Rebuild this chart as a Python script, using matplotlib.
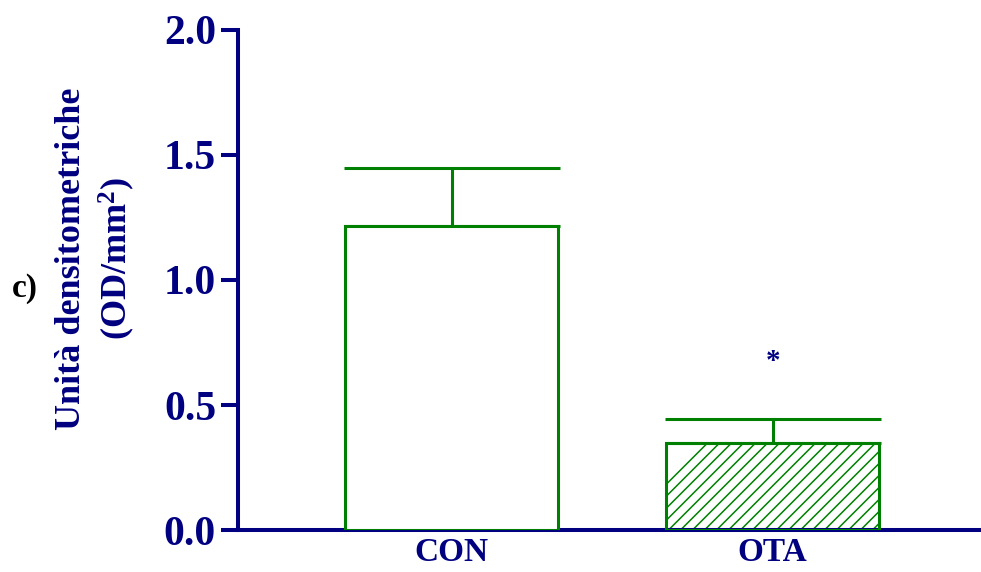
import matplotlib
matplotlib.use("Agg")
import matplotlib.pyplot as plt
import matplotlib.transforms as mtransforms
from matplotlib.collections import LineCollection
import numpy as np

# Data
groups = ["CON", "OTA"]
means = [1.215, 0.35]
sems = [0.232, 0.096]
ytick_vals = [0.0, 0.5, 1.0, 1.5, 2.0]
ytick_labels = ["0.0", "0.5", "1.0", "1.5", "2.0"]

NAVY = "#000080"
GREEN = "#008000"

plt.rcParams["font.family"] = ["Liberation Serif", "DejaVu Serif"]
plt.rcParams["font.weight"] = "bold"
plt.rcParams["mathtext.fontset"] = "custom"
plt.rcParams["mathtext.rm"] = "Liberation Serif:bold"
plt.rcParams["mathtext.bf"] = "Liberation Serif:bold"
plt.rcParams["mathtext.default"] = "bf"

DPI = 100
fig = plt.figure(figsize=(9.81, 5.72), dpi=DPI)
ax = fig.add_axes([0.2429, 0.0734, 0.7571, 0.8742])

x = np.arange(len(groups))
width = 0.6645

ax.set_xlim(-0.665, 1.649)
ax.set_ylim(0, 2.0)

# Error bars (upper only) behind bars
ax.errorbar(x, means, yerr=[np.zeros(len(means)), sems], fmt="none",
            ecolor=GREEN, elinewidth=2.2, capsize=78, capthick=2.2, zorder=1)

bars = ax.bar(x, means, width=width, color="white", edgecolor=GREEN,
              linewidth=2.2, zorder=3)

# Diagonal hatching on the treated group: 45-degree lines in pixel space,
# each trimmed to the bar rectangle
hatched = bars[1]
hatched.set_facecolor("none")
(x0, y0), (x1, y1) = ax.transData.transform(
    [(hatched.get_x(), hatched.get_y()),
     (hatched.get_x() + hatched.get_width(), hatched.get_y() + hatched.get_height())])
spacing = 12.0
segs = []
c = x0 - (y1 - y0)
while c < x1:
    ya = max(y0, x0 - c)
    yb = min(y1, x1 - c)
    if yb > ya:
        segs.append([(ya + c, ya), (yb + c, yb)])
    c += spacing
hatch = LineCollection(segs, colors=GREEN, linewidths=1.1,
                       transform=mtransforms.IdentityTransform(), zorder=2.5)
ax.add_collection(hatch, autolim=False)

# Significance marker
ax.text(1, 0.645, "*", ha="center", va="baseline", color=NAVY,
        fontsize=21, fontweight="bold")

# Axes styling
for side in ("top", "right"):
    ax.spines[side].set_visible(False)
for side in ("left", "bottom"):
    ax.spines[side].set_color(NAVY)
    ax.spines[side].set_linewidth(2.9)

ax.set_yticks(ytick_vals)
ax.set_yticklabels(ytick_labels)
ax.set_xticks(x)
ax.set_xticklabels(groups)
ax.tick_params(axis="y", direction="out", length=12, width=2.9, color=NAVY,
               labelcolor=NAVY, labelsize=30, pad=4)
ax.tick_params(axis="x", length=0, labelcolor=NAVY, labelsize=24, pad=5)
for lab in ax.get_xticklabels() + ax.get_yticklabels():
    lab.set_fontweight("bold")

fig.text(96 / 981, 1 - 259 / 572, "Unità densitometriche\n(OD/mm$^{2}$)",
         rotation=90, ha="center", va="center", multialignment="center",
         color=NAVY, fontsize=26, fontweight="bold", linespacing=1.3)

fig.text(25 / 981, 1 - 288 / 572, "c)", ha="center", va="center",
         color="black", fontsize=24, fontweight="bold")

fig.savefig("out.png", dpi=DPI)
